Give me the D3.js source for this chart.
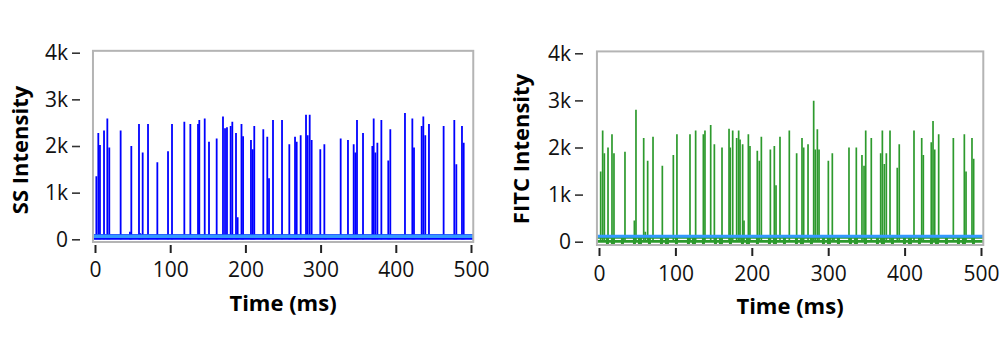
<!DOCTYPE html>
<html><head><meta charset="utf-8">
<script src="https://cdn.jsdelivr.net/npm/d3@7"></script>
<style>
body{margin:0;background:#fff;}
svg{display:block;font-family:"Open Sans","Noto Sans",sans-serif;}
</style>
</head><body>
<svg id="c" width="1003" height="358"></svg>
<script>
const timeTicks = [0, 100, 200, 300, 400, 500];
const intensityTicks = [0, 1000, 2000, 3000, 4000];
const intensityTickLabels = ["0", "1k", "2k", "3k", "4k"];

const ssTime = [1.8, 4.4, 6.6, 12, 16.4, 19, 34.1, 46.5, 48.3, 58.5, 60.3, 63.4, 70.5, 82.9, 97.1, 102.4, 118.8, 126.8, 137, 138.7, 145.9, 151.6, 161.8, 170.2, 172.9, 175.5, 180.4, 182.6, 187.5, 189.7, 194.8, 196.9, 207.4, 209.7, 211.8, 223.8, 229.1, 231.4, 236.7, 248.7, 258.4, 266, 268.2, 273.5, 280.6, 282.8, 285.5, 288.1, 299.6, 305, 307.2, 326.7, 336.4, 344, 346.2, 348.4, 356.4, 368.8, 370.6, 372.8, 375.5, 380.8, 390, 392.7, 412.2, 422, 424.2, 434.4, 436.6, 439.2, 444.1, 463.6, 477.8, 480.5, 488, 490.3];
const ssValue = [1350, 2280, 2020, 2330, 2590, 1970, 2330, 160, 2000, 2470, 130, 1860, 2470, 1650, 1890, 2470, 2520, 2470, 2470, 2560, 2590, 2090, 2160, 2630, 2380, 2400, 2430, 2520, 2280, 470, 2470, 2210, 2130, 1930, 2430, 2360, 2200, 1310, 2560, 2560, 2040, 2200, 2090, 2230, 2670, 2230, 2670, 2130, 1930, 2040, 100, 2160, 2130, 2040, 1860, 2560, 2280, 2000, 2590, 1860, 2070, 2560, 1690, 2360, 2710, 2590, 1970, 2430, 2630, 2230, 2470, 2430, 2560, 1610, 2430, 2070];

const fitcTime = [2.2, 4.8, 7, 11.8, 17, 19.6, 34, 46.3, 48.4, 58.5, 60.6, 63.7, 70.7, 82.9, 97.3, 102, 119.1, 126.5, 136.6, 138.7, 146.2, 151, 161, 170.2, 171.8, 175, 180.2, 182.8, 184.6, 188, 189.8, 195.5, 197.6, 207.2, 209.8, 212.5, 224.3, 229.5, 231.7, 236.9, 249.1, 258.7, 265.7, 267.9, 273.6, 281, 283.1, 285.8, 288, 300.2, 305.4, 307.6, 327.2, 336.8, 344.2, 346.9, 349.1, 356.4, 368.7, 370.9, 373.5, 376.1, 380.9, 390.4, 393, 412.3, 422.4, 424.5, 434.9, 437.2, 439.4, 444.6, 463.8, 478.2, 480.4, 488.2, 490.4];
const fitcValue = [1490, 2360, 1880, 2000, 2280, 1880, 1910, 450, 2800, 2200, 210, 1720, 2230, 1610, 1840, 2280, 2280, 2360, 2280, 2360, 2480, 2070, 2000, 2400, 2000, 2360, 2200, 2360, 2170, 2070, 450, 2280, 2030, 1930, 1720, 2230, 1960, 2030, 1200, 2230, 2360, 1880, 2200, 2000, 2070, 2990, 1960, 2390, 1960, 1720, 1880, 100, 2000, 2000, 1840, 1610, 2360, 2200, 1880, 2360, 1650, 1880, 2360, 1570, 2070, 2360, 2200, 1840, 2110, 2560, 1960, 2280, 2200, 2280, 1490, 2200, 1760];

const ssNoiseBand = [-10, 110];
const ssThreshold = 65;
const fitcNoiseBand = [-75, 110];
const fitcThreshold = 118;
const fitcGapLevels = [50, -35];

const svg = d3.select("#c");

function panel(o) {
  const x = d3.scaleLinear().domain([0, 500]).range(o.xr);
  const y = d3.scaleLinear().domain([0, 4000]).range(o.yr);
  const g = svg.append("g");
  const bx0 = x(-2.7), bx1 = x(503), by0 = y(4040), by1 = y(o.boxMin);
  const cid = "clip" + o.id;
  g.append("clipPath").attr("id", cid).append("rect")
    .attr("x", bx0).attr("y", by0).attr("width", bx1 - bx0).attr("height", by1 - by0);
  const p = g.append("g").attr("clip-path", `url(#${cid})`);

  p.append("rect").attr("x", bx0).attr("width", bx1 - bx0)
    .attr("y", y(o.noise[1])).attr("height", y(o.noise[0]) - y(o.noise[1]))
    .attr("fill", o.color);
  if (o.gaps) {
    p.selectAll("line.gap").data(o.gaps).join("line").attr("class", "gap")
      .attr("x1", bx0).attr("x2", bx1).attr("y1", d => y(d)).attr("y2", d => y(d))
      .attr("stroke", "#fff").attr("stroke-width", 1.3).attr("stroke-dasharray", "9,3,2,4,6,3");
  }
  p.selectAll("line.spike").data(o.t).join("line").attr("class", "spike")
    .attr("x1", d => x(d)).attr("x2", d => x(d))
    .attr("y1", y(0)).attr("y2", (d, i) => y(o.v[i]))
    .attr("stroke", o.color).attr("stroke-width", o.sw);
  p.append("line").attr("x1", bx0).attr("x2", bx1)
    .attr("y1", y(o.thr)).attr("y2", y(o.thr))
    .attr("stroke", "#3399ff").attr("stroke-width", o.thrW);

  g.append("rect").attr("x", bx0).attr("y", by0).attr("width", bx1 - bx0).attr("height", by1 - by0)
    .attr("fill", "none").attr("stroke", "#b4b4b4").attr("stroke-width", 2);

  const ya = g.append("g").attr("transform", `translate(${o.yAxisX},0)`)
    .call(d3.axisLeft(y).tickValues(intensityTicks).tickFormat((d, i) => intensityTickLabels[i]).tickSize(8).tickPadding(4));
  ya.select(".domain").remove();
  ya.selectAll(".tick line").attr("stroke", "#333").attr("stroke-width", 1.6);
  ya.selectAll(".tick text").attr("font-size", 21).attr("fill", "#111").attr("font-family", "'Open Sans',sans-serif");

  const xa = g.append("g").attr("transform", `translate(0,${by1 + 3})`)
    .call(d3.axisBottom(x).tickValues(timeTicks).tickSize(8).tickPadding(o.xPad));
  xa.select(".domain").remove();
  xa.selectAll(".tick line").attr("stroke", "#222").attr("stroke-width", 2);
  xa.selectAll(".tick text").attr("font-size", 21).attr("fill", "#111").attr("font-family", "'Open Sans',sans-serif");

  g.append("text").attr("x", (x(0) + x(500)) / 2 + o.xtDx).attr("y", o.xtY)
    .attr("text-anchor", "middle").attr("font-weight", "bold").attr("font-size", 22).attr("fill", "#000")
    .text("Time (ms)");
  g.append("text").attr("transform", `translate(${o.ytX},${o.ytY}) rotate(-90)`)
    .attr("text-anchor", "middle").attr("font-weight", "bold").attr("font-size", 22).attr("fill", "#000")
    .text(o.title);
}

panel({id: "ss", xr: [95, 471], yr: [239.3, 52.7], boxMin: -58, t: ssTime, v: ssValue,
  color: "#0000ff", sw: 1.8, noise: ssNoiseBand, thr: ssThreshold, thrW: 3.5,
  yAxisX: 80, xPad: 9, xtDx: 0, xtY: 311, ytX: 28, ytY: 150, title: "SS Intensity"});
panel({id: "fitc", xr: [599, 981], yr: [241.7, 53.3], boxMin: -70, t: fitcTime, v: fitcValue,
  color: "#2d9a2d", sw: 1.7, noise: fitcNoiseBand, thr: fitcThreshold, thrW: 3, gaps: fitcGapLevels,
  yAxisX: 583, xPad: 10, xtDx: 0, xtY: 314, ytX: 529, ytY: 149, title: "FITC Intensity"});
</script>
</body></html>
